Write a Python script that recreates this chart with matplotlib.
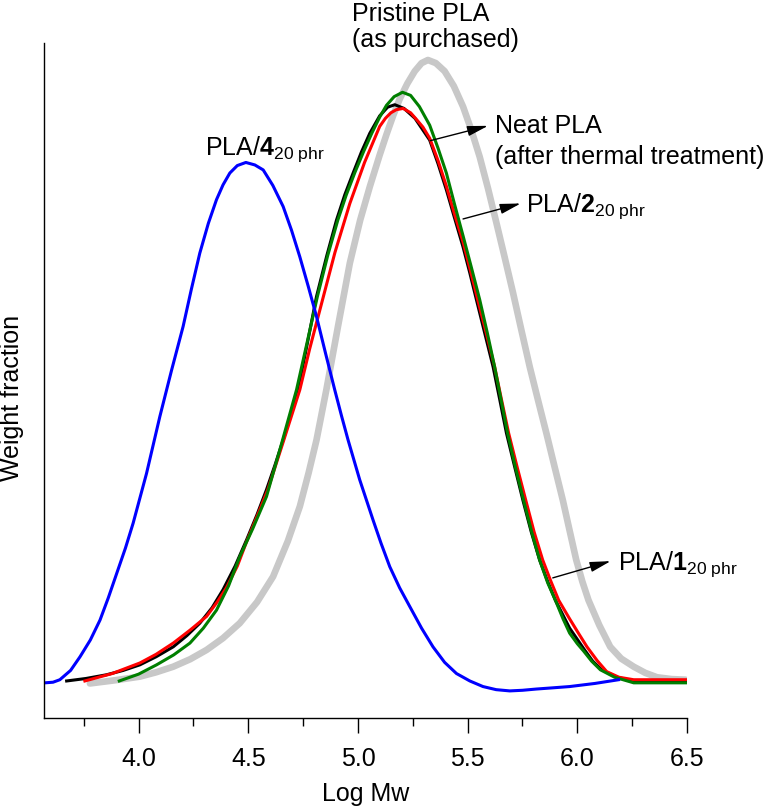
import matplotlib
matplotlib.use("Agg")
import matplotlib.pyplot as plt

plt.rcParams['font.family'] = ['Liberation Sans', 'DejaVu Sans']
plt.rcParams['mathtext.fontset'] = 'custom'
plt.rcParams['mathtext.rm'] = 'Liberation Sans'
plt.rcParams['mathtext.bf'] = 'Liberation Sans:bold'
plt.rcParams['mathtext.it'] = 'Liberation Sans:italic'

# ---------------- data (Log Mw, weight fraction in arbitrary units) ----------------
pristine_x = [3.778, 3.890, 4.006, 4.080, 4.158, 4.235, 4.310, 4.385, 4.461, 4.540,
              4.613, 4.680, 4.735, 4.775, 4.811, 4.856, 4.910, 4.963, 5.010, 5.054,
              5.099, 5.130, 5.160, 5.190, 5.225, 5.259, 5.290, 5.319, 5.355, 5.395,
              5.437, 5.479, 5.517, 5.555, 5.593, 5.631, 5.669, 5.707, 5.745, 5.783,
              5.821, 5.859, 5.897, 5.934, 5.965, 5.995, 6.023, 6.051, 6.100, 6.150,
              6.200, 6.257, 6.310, 6.363, 6.430, 6.494]
pristine_y = [-0.004, 0.001, 0.007, 0.014, 0.023, 0.035, 0.050, 0.069, 0.093, 0.127,
              0.168, 0.225, 0.281, 0.335, 0.388, 0.469, 0.573, 0.673, 0.742, 0.796,
              0.847, 0.880, 0.910, 0.937, 0.962, 0.982, 0.995, 1.000, 0.995, 0.982,
              0.958, 0.925, 0.887, 0.844, 0.793, 0.738, 0.682, 0.625, 0.565, 0.506,
              0.452, 0.399, 0.344, 0.291, 0.242, 0.195, 0.160, 0.130, 0.090, 0.055,
              0.036, 0.023, 0.013, 0.006, 0.003, 0.002]

neat_x = [3.672, 3.760, 3.854, 3.930, 4.006, 4.080, 4.158, 4.220, 4.279, 4.335,
          4.385, 4.440, 4.492, 4.540, 4.583, 4.622, 4.659, 4.694, 4.727, 4.770,
          4.811, 4.858, 4.902, 4.940, 4.978, 5.016, 5.054, 5.099, 5.135, 5.168,
          5.210, 5.260, 5.327, 5.365, 5.403, 5.440, 5.479, 5.510, 5.540, 5.578,
          5.616, 5.647, 5.677, 5.715, 5.752, 5.790, 5.828, 5.865, 5.900, 5.965,
          6.033, 6.070, 6.111, 6.180, 6.257, 6.380, 6.494]
neat_y = [0.000, 0.004, 0.010, 0.017, 0.026, 0.039, 0.055, 0.073, 0.093, 0.118,
          0.147, 0.185, 0.227, 0.268, 0.308, 0.348, 0.388, 0.429, 0.469, 0.545,
          0.619, 0.685, 0.742, 0.783, 0.818, 0.852, 0.882, 0.910, 0.924, 0.928,
          0.922, 0.906, 0.871, 0.833, 0.791, 0.746, 0.699, 0.657, 0.614, 0.560,
          0.506, 0.452, 0.399, 0.344, 0.291, 0.240, 0.195, 0.160, 0.130, 0.085,
          0.050, 0.032, 0.018, 0.006, 0.000, -0.001, -0.001]

pla1_x = [3.755, 3.880, 4.006, 4.080, 4.158, 4.235, 4.310, 4.360, 4.400, 4.450,
          4.492, 4.540, 4.589, 4.662, 4.735, 4.780, 4.826, 4.895, 4.963, 5.030,
          5.099, 5.125, 5.150, 5.175, 5.206, 5.240, 5.265, 5.296, 5.327, 5.365,
          5.403, 5.440, 5.479, 5.512, 5.546, 5.585, 5.623, 5.655, 5.687, 5.726,
          5.765, 5.803, 5.842, 5.880, 5.915, 5.965, 6.005, 6.044, 6.090, 6.134,
          6.190, 6.257, 6.380, 6.494]
pla1_y = [0.000, 0.012, 0.029, 0.043, 0.061, 0.082, 0.104, 0.128, 0.150, 0.185,
          0.224, 0.265, 0.308, 0.388, 0.469, 0.535, 0.597, 0.690, 0.769, 0.835,
          0.893, 0.906, 0.915, 0.920, 0.922, 0.915, 0.905, 0.892, 0.874, 0.838,
          0.797, 0.752, 0.707, 0.662, 0.614, 0.560, 0.506, 0.452, 0.399, 0.344,
          0.291, 0.240, 0.195, 0.160, 0.130, 0.100, 0.077, 0.055, 0.033, 0.015,
          0.006, 0.002, 0.002, 0.002]

pla2_x = [3.912, 4.000, 4.082, 4.160, 4.234, 4.295, 4.355, 4.410, 4.461, 4.520,
          4.583, 4.650, 4.720, 4.770, 4.815, 4.862, 4.908, 4.946, 4.985, 5.025,
          5.063, 5.099, 5.130, 5.165, 5.203, 5.240, 5.280, 5.327, 5.365, 5.403,
          5.440, 5.479, 5.517, 5.555, 5.590, 5.623, 5.653, 5.682, 5.718, 5.755,
          5.792, 5.828, 5.865, 5.900, 5.935, 5.965, 6.000, 6.029, 6.065, 6.105,
          6.170, 6.257, 6.380, 6.494]
pla2_y = [0.000, 0.011, 0.026, 0.042, 0.061, 0.085, 0.114, 0.153, 0.200, 0.245,
          0.297, 0.380, 0.469, 0.548, 0.619, 0.685, 0.742, 0.782, 0.818, 0.852,
          0.882, 0.908, 0.927, 0.941, 0.948, 0.943, 0.925, 0.895, 0.858, 0.818,
          0.768, 0.717, 0.666, 0.614, 0.560, 0.506, 0.452, 0.399, 0.344, 0.291,
          0.240, 0.195, 0.158, 0.130, 0.100, 0.077, 0.060, 0.048, 0.032, 0.018,
          0.006, -0.003, -0.003, -0.003]

pla4_x = [3.573, 3.610, 3.641, 3.690, 3.733, 3.780, 3.824, 3.862, 3.900, 3.940,
          3.975, 4.036, 4.097, 4.150, 4.203, 4.240, 4.279, 4.318, 4.355, 4.385,
          4.416, 4.450, 4.489, 4.530, 4.568, 4.612, 4.659, 4.697, 4.735, 4.773,
          4.811, 4.852, 4.894, 4.925, 4.955, 5.008, 5.069, 5.105, 5.145, 5.190,
          5.236, 5.290, 5.342, 5.395, 5.449, 5.510, 5.570, 5.630, 5.692, 5.750,
          5.813, 5.890, 5.965, 6.080, 6.188]
pla4_y = [-0.003, -0.002, 0.002, 0.017, 0.039, 0.066, 0.098, 0.134, 0.173, 0.214,
          0.254, 0.334, 0.426, 0.500, 0.571, 0.630, 0.689, 0.737, 0.775, 0.799,
          0.818, 0.830, 0.835, 0.831, 0.823, 0.798, 0.764, 0.726, 0.683, 0.636,
          0.587, 0.528, 0.469, 0.427, 0.388, 0.324, 0.259, 0.222, 0.184, 0.150,
          0.120, 0.085, 0.055, 0.030, 0.012, 0.000, -0.009, -0.014, -0.016, -0.015,
          -0.013, -0.011, -0.009, -0.004, 0.002]

xticks = [4.0, 4.5, 5.0, 5.5, 6.0, 6.5]
xtick_labels = ['4.0', '4.5', '5.0', '5.5', '6.0', '6.5']
xminor = [3.75, 4.25, 4.75, 5.25, 5.75, 6.25]

# ---------------- figure ----------------
fig = plt.figure(figsize=(7.74, 8.11), dpi=100)
ax = fig.add_axes([0.0572, 0.1147, 0.8304, 0.8323])

ax.plot(pristine_x, pristine_y, color='#c8c8c8', lw=4.8, solid_capstyle='round', solid_joinstyle='round')
ax.plot(neat_x, neat_y, color='black', lw=2.2, solid_joinstyle='round')
ax.plot(pla1_x, pla1_y, color='#ff0000', lw=2.2, solid_joinstyle='round')
ax.plot(pla2_x, pla2_y, color='#007f00', lw=2.2, solid_joinstyle='round')
ax.plot(pla4_x, pla4_y, color='#0000ff', lw=2.2, solid_joinstyle='round')

ax.set_xlim(3.570, 6.5)
ax.set_ylim(-0.0596, 1.0274)

for s in ['top', 'right']:
    ax.spines[s].set_visible(False)
for s in ['left', 'bottom']:
    ax.spines[s].set_linewidth(1.0)
    ax.spines[s].set_color('black')

ax.set_yticks([])
ax.set_xticks(xticks)
ax.set_xticklabels(xtick_labels, fontsize=18)
ax.set_xticks(xminor, minor=True)
ax.tick_params(axis='x', which='major', direction='out', length=10.8, width=1.0, pad=10)
ax.tick_params(axis='x', which='minor', direction='out', length=5.8, width=1.0)

ax.set_xlabel('Log Mw', fontsize=18, labelpad=8)
fig.text(12 / 774, 1 - 398 / 811, 'Weight fraction', rotation=90, fontsize=18,
         ha='center', va='center')

# ---------------- annotations ----------------
tfs = 18
ax.text(4.972, 1.063, 'Pristine PLA', fontsize=tfs, ha='left', va='baseline', clip_on=False)
ax.text(4.972, 1.0205, '(as purchased)', fontsize=tfs, ha='left', va='baseline', clip_on=False)

ax.text(5.623, 0.883, 'Neat PLA', fontsize=tfs, ha='left', va='baseline')
ax.text(5.623, 0.8325, '(after thermal treatment)', fontsize=tfs, ha='left', va='baseline', clip_on=False)

ax.text(5.768, 0.756, r'PLA/$\mathbf{2}_{\mathrm{20\ phr}}$', fontsize=tfs, ha='left', va='baseline')
ax.text(6.184, 0.179, r'PLA/$\mathbf{1}_{\mathrm{20\ phr}}$', fontsize=tfs, ha='left', va='baseline', clip_on=False)
ax.text(4.302, 0.847, r'PLA/$\mathbf{4}_{\mathrm{20\ phr}}$', fontsize=tfs, ha='left', va='baseline')

arrow_kw = dict(arrowstyle='-|>,head_length=0.9,head_width=0.22', color='black', lw=1.0,
                shrinkA=0, shrinkB=0, mutation_scale=14)
ax.annotate('', xy=(5.593, 0.894), xytext=(5.329, 0.870), arrowprops=arrow_kw)
ax.annotate('', xy=(5.742, 0.769), xytext=(5.479, 0.744), arrowprops=arrow_kw)
ax.annotate('', xy=(6.152, 0.193), xytext=(5.888, 0.166), arrowprops=arrow_kw)

fig.savefig('out.png', dpi=100)
